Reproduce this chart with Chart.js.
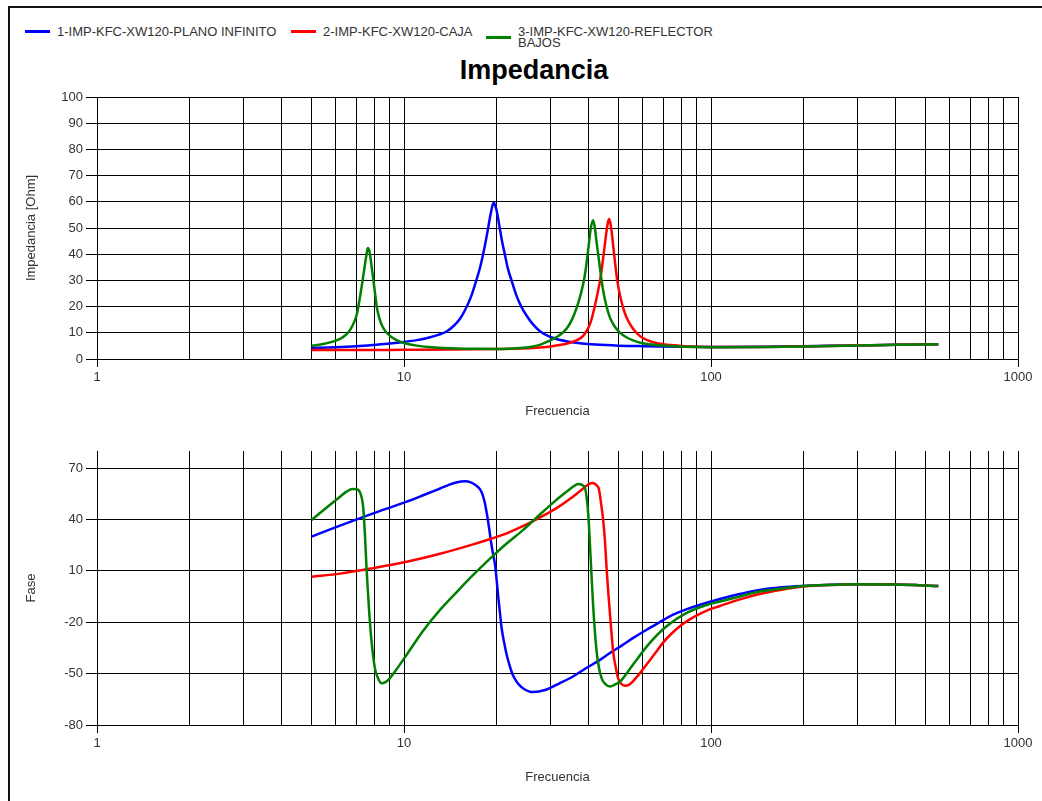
<!DOCTYPE html>
<html>
<head>
<meta charset="utf-8">
<script src="https://cdn.jsdelivr.net/npm/chart.js@4.4.1/dist/chart.umd.min.js"></script>
<style>
  body { margin: 0; background: #fff; font-family: 'Liberation Sans', Arial, sans-serif; }
  #frame { position: absolute; left: 8px; top: 6px; width: 1100px; height: 900px;
           border-left: 2px solid #111; border-top: 2px solid #111; }
  .leg { position: absolute; display: flex; align-items: center; font-size: 13px;
         line-height: 11px; color: #333; }
  .leg .sw { width: 25px; height: 3px; margin-right: 7px; flex: none; }
  #title { position: absolute; left: 0; top: 55px; width: 1068px; text-align: center;
           font-size: 27px; font-weight: bold; line-height: 30px; color: #000; }
  canvas { position: absolute; left: 0; }
</style>
</head>
<body>
<div id="frame"></div>
<div id="legend"></div>
<div id="title">Impedancia</div>
<canvas id="imp" width="1042" height="340" style="top:85px"></canvas>
<canvas id="fase" width="1042" height="351" style="top:440px"></canvas>
<script>
// series names and colours
var seriesLabels = ['1-IMP-KFC-XW120-PLANO INFINITO', '2-IMP-KFC-XW120-CAJA', '3-IMP-KFC-XW120-REFLECTOR BAJOS']
var seriesColors = ['#0000ff', '#ff0000', '#008000']

// impedance (Ohm) vs frequency (Hz)
var fZBlue = [5, 6, 7, 8, 9, 10, 11, 12, 13, 13.8, 14.5, 15.2, 15.8, 16.5, 17.2, 17.7, 18.1, 18.5, 18.8, 19.2, 19.6, 20, 20.5, 20.9, 21.3, 21.8, 22.4, 23.2, 24.1, 25, 26.2, 27.6, 29, 31, 34, 38, 42, 50, 60, 80, 100, 150, 200, 300, 400, 550]
var zBlue = [4.2, 4.5, 4.9, 5.4, 5.9, 6.5, 7.2, 8.1, 9.3, 10.6, 12.6, 15.3, 18.6, 23.5, 30, 35, 40, 45.5, 50, 56, 59.7, 57, 50, 44.5, 40, 34.5, 30, 24.5, 20, 16.8, 13.5, 10.8, 9.2, 7.8, 6.7, 5.9, 5.5, 5.1, 4.9, 4.7, 4.6, 4.7, 4.9, 5.2, 5.4, 5.6]

var fZRed = [5, 7, 10, 14, 20, 24, 27, 30, 32.5, 34.5, 36.5, 38, 38.9, 40, 40.9, 41.7, 42.7, 43.6, 44.2, 44.7, 45.3, 45.9, 46.5, 46.9, 47.3, 47.8, 48.3, 48.9, 49.5, 50.5, 51.6, 53, 55, 57.2, 60, 64, 70, 80, 100, 150, 200, 300, 400, 550]
var zRed = [3.4, 3.4, 3.5, 3.6, 3.8, 4.0, 4.3, 4.8, 5.4, 6.1, 7.1, 8.4, 9.8, 12.3, 15.5, 19.5, 25, 30.5, 35.5, 40, 45.5, 50.5, 53.4, 52.5, 50, 45.5, 40.5, 35, 30, 24.5, 20, 16, 12.5, 10, 8, 6.6, 5.6, 5.0, 4.6, 4.6, 4.8, 5.2, 5.4, 5.6]

var fZGreen = [5, 5.5, 6, 6.3, 6.57, 6.8, 7, 7.1, 7.22, 7.33, 7.45, 7.55, 7.63, 7.7, 7.75, 7.85, 7.95, 8.05, 8.15, 8.3, 8.5, 8.78, 9.2, 9.7, 10.3, 11, 12, 13.5, 15, 17, 20, 22, 24, 26, 28, 29.2, 30.5, 32, 33, 34.2, 35.4, 36.5, 37.5, 38.4, 39, 39.5, 40.1, 40.6, 41.3, 41.8, 42.3, 42.9, 43.4, 44, 44.8, 45.7, 46.8, 48.5, 50.6, 53, 56, 60, 66, 75, 90, 110, 150, 200, 300, 400, 550]
var zGreen = [5, 5.8, 7, 8.2, 10, 12.8, 16.5, 20, 25, 30, 35.5, 40, 42.4, 41.5, 40, 35, 30, 25, 20, 15.8, 12.5, 10, 8, 6.6, 5.7, 5.1, 4.6, 4.2, 4.0, 3.9, 3.85, 3.95, 4.2, 4.7, 5.6, 6.5, 7.6, 9, 10.2, 12.3, 15.5, 19.5, 24, 29, 33.5, 38.5, 45, 50, 53, 50.5, 45.5, 40, 35.5, 30, 24.5, 20, 16, 12.5, 10, 8.3, 7, 6, 5.3, 4.9, 4.6, 4.5, 4.6, 4.8, 5.2, 5.4, 5.6]

// phase (degrees) vs frequency (Hz)
var fPhBlue = [5, 6.19, 7.94, 10.2, 11.6, 13.1, 14, 14.9, 15.8, 16.5, 17.1, 17.7, 18, 18.3, 18.55, 18.8, 19, 19.2, 19.5, 19.8, 20.05, 20.3, 20.55, 20.8, 21.2, 21.6, 22.1, 22.6, 23.4, 24.4, 26.3, 29, 32, 35.5, 39, 43.5, 47, 51.6, 56, 61.5, 68, 75, 83, 91.6, 107, 125, 144, 170, 200, 250, 300, 400, 550]
var phBlue = [30, 36.4, 43.6, 50.4, 54.3, 58.1, 60.2, 61.8, 62.3, 61.7, 60.1, 57.6, 54.8, 50.4, 45, 38.7, 33, 27, 20, 13.4, 4, -6, -15, -23.5, -32, -39, -45.5, -50.7, -55.3, -58.5, -60.8, -59.4, -55.8, -51.7, -47, -42, -37.8, -33.2, -29, -24.5, -20, -15.7, -12.5, -9.9, -6.4, -3.4, -1.1, 0.4, 1.2, 1.9, 2.2, 2.0, 1.2]

var fPhRed = [5, 6.19, 7.94, 10.2, 13.1, 16.8, 19.1, 21.6, 24.4, 27.6, 31.3, 35.5, 37.5, 39.3, 40.3, 41, 41.8, 42.5, 43.1, 43.8, 44.6, 45.2, 45.7, 46.3, 46.9, 47.5, 48, 48.9, 49.8, 50.9, 52.4, 54, 55.6, 58.5, 61.5, 65.5, 69.6, 74, 79, 85, 91.6, 99, 107, 125, 144, 170, 200, 250, 300, 400, 550]
var phRed = [6.6, 8.4, 11.6, 15.3, 20, 25.5, 28.6, 31.9, 36.2, 41, 46.5, 53.3, 56.7, 59.7, 60.9, 61.3, 61, 59.8, 58, 50, 38.7, 26, 11.5, -3, -15.7, -28, -37.1, -46, -52.6, -55.8, -57.1, -56.6, -54.6, -50, -44.9, -38.5, -32.2, -27, -22.5, -18.5, -15.3, -12.5, -10.5, -6.5, -3.5, -1, 0.8, 1.8, 2.2, 2.0, 1.2]

var fPhGreen = [5, 5.6, 6.19, 6.5, 6.8, 7, 7.2, 7.37, 7.47, 7.56, 7.7, 7.84, 8.04, 8.2, 8.44, 8.7, 9, 9.5, 10.2, 11.5, 13.1, 14.9, 16.8, 19.1, 21.6, 24.4, 27.6, 31.3, 34, 35.5, 36.9, 38, 38.9, 39.4, 39.85, 40.5, 41.3, 42.3, 43.1, 44, 45.2, 46.9, 48.5, 50.6, 55.6, 63.1, 71.5, 83, 96.7, 107, 125, 144, 170, 200, 250, 300, 400, 550]
var phGreen = [39.7, 47, 53.3, 56.3, 57.8, 57.7, 55.5, 46.5, 29, 9.6, -13.8, -31.3, -46.8, -52, -55.6, -55, -52.6, -47, -39, -25.4, -12.8, -2.1, 7.6, 17.3, 26, 33.8, 42.6, 51.3, 56.5, 59.1, 60.7, 60.2, 58.1, 52, 42.6, 19.3, -9.9, -35.2, -46, -52.6, -56, -57.5, -56.5, -54.6, -44.9, -32.2, -22.5, -14.7, -9.9, -7.9, -4.8, -2.1, -0.3, 1.2, 1.9, 2.2, 2.0, 1.2]

// axis ticks
var impTicksStep = 10
var phaseTicks = [-80, -50, -20, 10, 40, 70]

Chart.defaults.font.family = "'Liberation Sans', Arial, sans-serif"
Chart.defaults.font.size = 13

function pts(fs, vs) {
    return fs.map(function (f, i) { return { x: f, y: vs[i] } })
}

function isDecade(v) {
    var l = Math.log10(v)
    return Math.abs(l - Math.round(l)) < 1e-9
}

function datasets(series) {
    return series.map(function (s, i) {
        return {
            label: seriesLabels[i],
            data: s,
            borderColor: seriesColors[i],
            backgroundColor: seriesColors[i],
            borderWidth: 2.5,
            pointRadius: 0,
            cubicInterpolationMode: 'monotone',
            order: 3 - i
        }
    })
}

function xAxis() {
    return {
        type: 'logarithmic',
        min: 1,
        max: 1000,
        afterBuildTicks: function (s) {
            s.ticks = s.ticks.filter(function (t) {
                var m = t.value / Math.pow(10, Math.floor(Math.log10(t.value) + 1e-9))
                return Math.abs(m - Math.round(m)) < 1e-6
            })
        },
        afterFit: function (s) { s.height = 66 },
        ticks: {
            autoSkip: false, maxRotation: 0, minRotation: 0, padding: 3, color: '#333',
            callback: function (v) { return isDecade(v) ? String(Math.round(v)) : '' }
        },
        grid: {
            color: '#000', lineWidth: 1, tickLength: 8,
            tickColor: function (c) { return c.tick && isDecade(c.tick.value) ? '#000' : 'rgba(0,0,0,0)' }
        },
        border: { color: '#000' },
        title: { display: true, text: 'Frecuencia', color: '#333', padding: { top: 0, bottom: 6 } }
    }
}

function yAxis(extra, label) {
    var ax = {
        afterFit: function (s) { s.width = 77 },
        ticks: { padding: 3, color: '#333' },
        grid: { color: '#000', lineWidth: 1, tickLength: 11, tickColor: '#000' },
        border: { color: '#000' },
        title: { display: true, text: label, color: '#333', padding: { top: 4, bottom: 0 } }
    }
    return Object.assign(ax, extra)
}

function makeChart(id, series, y, label, padTop) {
    return new Chart(document.getElementById(id), {
        type: 'line',
        data: { datasets: datasets(series) },
        options: {
            responsive: false,
            devicePixelRatio: 1,
            animation: false,
            layout: { padding: { top: padTop, left: 20, right: 24, bottom: 0 } },
            plugins: { legend: { display: false }, tooltip: { enabled: false } },
            scales: { x: xAxis(), y: yAxis(y, label) }
        }
    })
}

makeChart('imp', [pts(fZBlue, zBlue), pts(fZRed, zRed), pts(fZGreen, zGreen)],
    { min: 0, max: 100, ticks: { stepSize: impTicksStep, padding: 3, color: '#333' } },
    'Impedancia [Ohm]', 12)

makeChart('fase', [pts(fPhBlue, phBlue), pts(fPhRed, phRed), pts(fPhGreen, phGreen)],
    {
        min: -80, max: 80,
        afterBuildTicks: function (s) { s.ticks = phaseTicks.map(function (v) { return { value: v } }) }
    },
    'Fase', 11)

// legend
var legendX = [25, 291, 486]
var legendW = [260, 190, 200]
var legend = document.getElementById('legend')
seriesLabels.forEach(function (lab, i) {
    var d = document.createElement('div')
    d.className = 'leg'
    d.style.left = legendX[i] + 'px'
    d.style.top = '26px'
    var sw = document.createElement('span')
    sw.className = 'sw'
    sw.style.background = seriesColors[i]
    var tx = document.createElement('span')
    tx.textContent = lab
    tx.style.width = legendW[i] + 'px'
    d.appendChild(sw)
    d.appendChild(tx)
    legend.appendChild(d)
})
</script>
</body>
</html>
